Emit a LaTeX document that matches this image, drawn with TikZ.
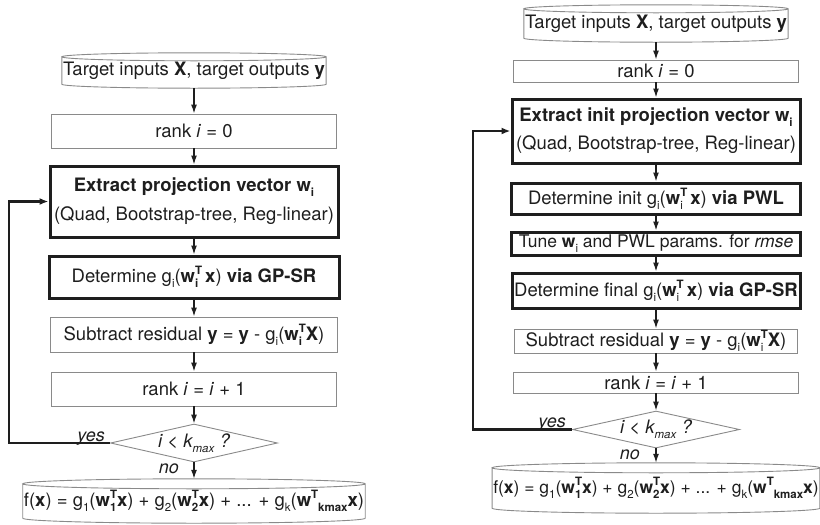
\documentclass[tikz,border=0pt]{standalone}
\usepackage{fontspec}
\setmainfont{TeX Gyre Heros}
\definecolor{box gray}{HTML}{8a8a8a}
\definecolor{ink}{HTML}{1e1e1e}
\usepackage{tikz}
\usetikzlibrary{calc,positioning,arrows.meta,shapes.geometric}
\tikzstyle{line} = [line width=1.3pt, draw=ink]
\tikzstyle{line>} = [line,-{Latex[length=9pt, width=6pt]}]
\tikzstyle{back line>} = [line, line width=2.6pt, -{Latex[length=9pt, width=7pt]}]
\tikzstyle{flow font} = [font=\fontsize{18.5}{22}\selectfont, text=ink]
\tikzstyle{small font} = [font=\fontsize{17.5}{21}\selectfont, text=ink]
\tikzstyle{plain node}=[flow font, rectangle, draw=box gray, line width=0.9pt, inner sep=1pt, align=center]
\tikzstyle{bold node}=[plain node, draw=ink, line width=3pt]
\tikzstyle{drum node}=[flow font, rectangle, inner sep=1pt, align=center]
\tikzstyle{drum line}=[draw=box gray, line width=0.9pt]
\tikzstyle{test node}=[flow font, diamond, draw=box gray, line width=0.9pt, aspect=4.4, inner sep=0pt]
\tikzstyle{label node}=[flow font, font=\fontsize{18}{21}\selectfont\itshape, inner sep=1pt]
\newcommand{\lo}[1]{\raisebox{-5pt}{\fontsize{11.5}{11.5}\selectfont#1}}
\newcommand{\hi}[1]{\raisebox{8pt}{\fontsize{11.5}{11.5}\selectfont#1}}
\newcommand{\lohi}[2]{\rlap{\lo{#1}}\hi{#2}}
\newcommand{\drum}[2]{\draw[drum line] let \p1=($(#1.east)-(#1.west)$) in
    (#1.north west) -- (#1.south west)
    arc[start angle=180, end angle=360, x radius=0.5*\x1, y radius=#2]
    -- (#1.north east)
    arc[start angle=0, end angle=360, x radius=0.5*\x1, y radius=#2];}

\begin{document}
\begin{tikzpicture}[x=1pt,y=-1pt]
        \useasboundingbox (0,0) rectangle (820,525);
        \def\lx{194}
        \def\rx{656}
        \node[drum node, minimum width=261pt, minimum height=27pt] (lin) at (\lx,70.5) {Target inputs \textbf{X}, target outputs \textbf{y}};
        \node[plain node, minimum width=285pt, minimum height=34pt] (lrank) at (\lx,131) {rank \textit{i} = 0};
        \node[bold node, minimum width=288pt, minimum height=71pt] (lext) at (\lx,201.5) {\textbf{Extract projection vector w\lo{i}}\\[7pt](Quad, Bootstrap-tree, Reg-linear)};
        \node[bold node, minimum width=290pt, minimum height=42pt] (lgp) at (\lx,277) {Determine g\lo{i}(\textbf{w}\lohi{\textbf{i}}{\textbf{T}}\,\textbf{x}) \textbf{via GP-SR}};
        \node[plain node, minimum width=287pt, minimum height=35pt] (lsub) at (\lx,334.5) {Subtract residual \textbf{y} = \textbf{y} - g\lo{i}(\textbf{w}\lohi{\textbf{i}}{\textbf{T}}\textbf{X})};
        \node[plain node, minimum width=285pt, minimum height=34pt] (linc) at (\lx,389) {rank \textit{i} = \textit{i} + 1};
        \node[test node, minimum width=167pt, minimum height=38pt] (ldec) at (\lx,443) {\itshape i < k\lo{max} ?};
        \node[drum node, minimum width=337pt, minimum height=34pt] (lout) at (\lx,501) {f(\textbf{x}) = g\lo{1}(\textbf{w}\lohi{\textbf{1}}{\textbf{T}}\textbf{x}) + g\lo{2}(\textbf{w}\lohi{\textbf{2}}{\textbf{T}}\textbf{x}) + ... + g\lo{k}(\textbf{w}\hi{\textbf{T}}\lo{\textbf{kmax}}\textbf{x})};
        \coordinate (lback) at (9,443);
        \node[label node, anchor=base east] (lyes) at ([xshift=-4pt, yshift=2pt]ldec.west) {yes};
        \node[label node, anchor=north east] (lno) at ([xshift=-14pt]ldec.south) {no};
        \drum{lin}{4pt}
        \drum{lout}{5pt}

        \node[drum node, minimum width=259pt, minimum height=29pt] (rin) at (\rx,23.5) {Target inputs \textbf{X}, target outputs \textbf{y}};
        \node[plain node, minimum width=285pt, minimum height=22pt] (rrank) at (\rx,71) {rank \textit{i} = 0};
        \node[bold node, minimum width=288pt, minimum height=64pt] (rext) at (\rx,131) {\textbf{Extract init projection vector w\lo{i}}\\[6pt](Quad, Bootstrap-tree, Reg-linear)};
        \node[bold node, minimum width=289pt, minimum height=31pt] (rinit) at (\rx,198.5) {Determine init g\lo{i}(\textbf{w}\lohi{i}{\textbf{T}}\,\textbf{x}) \textbf{via PWL}};
        \node[bold node, small font, minimum width=289pt, minimum height=23pt, inner sep=0pt] (rtune) at (\rx,243.5) {Tune \textbf{w}\lo{i} and PWL params. for \textit{rmse}};
        \node[bold node, minimum width=288pt, minimum height=35pt] (rgp) at (\rx,290.5) {Determine final g\lo{i}(\textbf{w}\lohi{i}{\textbf{T}}\,\textbf{x}) \textbf{via GP-SR}};
        \node[plain node, minimum width=283pt, minimum height=24pt] (rsub) at (\rx,341) {Subtract residual \textbf{y} = \textbf{y} - g\lo{i}(\textbf{w}\lohi{i}{\textbf{T}}\textbf{X})};
        \node[plain node, minimum width=285pt, minimum height=21pt] (rinc) at (\rx,382.5) {rank \textit{i} = \textit{i} + 1};
        \node[test node, minimum width=167pt, minimum height=37pt] (rdec) at (\rx,429.5) {\itshape i < k\lo{max} ?};
        \node[drum node, small font, minimum width=326pt, minimum height=40pt] (rout) at (\rx,488) {f(\textbf{x}) = g\lo{1}(\textbf{w}\lohi{\textbf{1}}{\textbf{T}}\textbf{x}) + g\lo{2}(\textbf{w}\lohi{\textbf{2}}{\textbf{T}}\textbf{x}) + ... + g\lo{k}(\textbf{w}\hi{\textbf{T}}\lo{\textbf{kmax}}\textbf{x})};
        \coordinate (rback) at (473,429.5);
        \node[label node, anchor=base east] (ryes) at ([xshift=-5pt, yshift=2pt]rdec.west) {yes};
        \node[label node, anchor=north east] (rno) at ([xshift=-15pt]rdec.south) {no};
        \drum{rin}{4pt}
        \drum{rout}{5pt}

        \draw[line>] ([yshift=-4pt]lin.south) -- (lrank.north);
        \draw[line>] (lrank.south) -- (lext.north);
        \draw[line>] (lext.south) -- (lgp.north);
        \draw[line>] (lgp.south) -- (lsub.north);
        \draw[line>] (lsub.south) -- (linc.north);
        \draw[line>] (linc.south) -- (ldec.north);
        \draw[line>] (ldec.south) -- ([yshift=5pt]lout.north);
        \draw[back line>] (ldec.west) -- (lback) |- (lext.west);

        \draw[line>] ([yshift=-4pt]rin.south) -- (rrank.north);
        \draw[line>] (rrank.south) -- (rext.north);
        \draw[line>] (rext.south) -- (rinit.north);
        \draw[line>] (rinit.south) -- (rtune.north);
        \draw[line>] (rtune.south) -- (rgp.north);
        \draw[line>] (rgp.south) -- (rsub.north);
        \draw[line>] (rsub.south) -- (rinc.north);
        \draw[line>] (rinc.south) -- (rdec.north);
        \draw[line>] (rdec.south) -- ([yshift=5pt]rout.north);
        \draw[back line>] (rdec.west) -- (rback) |- (rext.west);
\end{tikzpicture}
\end{document}
